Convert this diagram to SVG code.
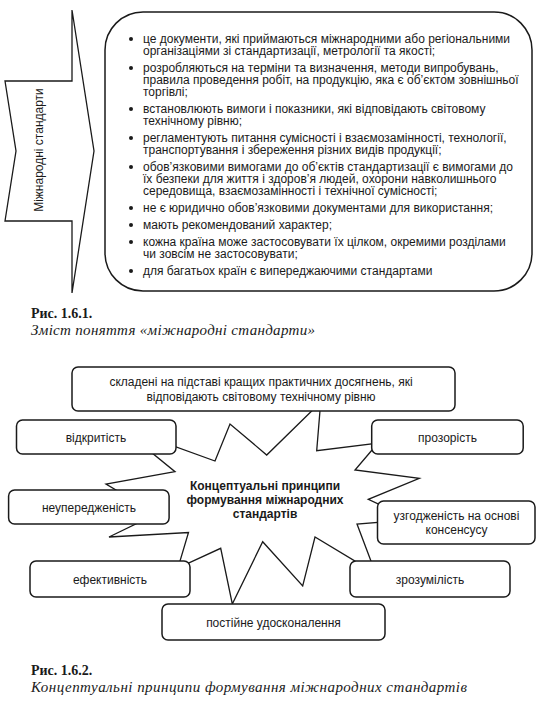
<svg xmlns="http://www.w3.org/2000/svg" width="538" height="712" viewBox="0 0 538 712">
<style>
.t{font-family:"Liberation Sans",Arial,sans-serif;font-size:12px;fill:#1a1a1a}
.c{text-anchor:middle}
.b{font-weight:bold}
.box{fill:#fff;stroke:#1a1a1a;stroke-width:1.5}
.ln{fill:#fff;stroke:#1a1a1a;stroke-width:1.3;stroke-linejoin:miter}
.cap{font-family:"Liberation Serif","Times New Roman",serif;fill:#1a1a1a}
.dot{fill:#1a1a1a}
</style>
<rect width="538" height="712" fill="#fff"/>

<g id="fig1">
  <g id="arrow">
    <polygon class="ln" points="5,81 72,81 72,10 94,151 72,293 72,221 5,221 16,151"/>
    <text class="t c" font-size="11.5" transform="translate(43,150) rotate(-90)">Міжнародні стандарти</text>
  </g>
  <g id="content">
    <rect class="box" x="105" y="12" width="427" height="279" rx="38" ry="38"/>
    <g class="dot">
      <circle cx="131" cy="39" r="2"/>
      <circle cx="131" cy="68" r="2"/>
      <circle cx="131" cy="109" r="2"/>
      <circle cx="131" cy="138" r="2"/>
      <circle cx="131" cy="167" r="2"/>
      <circle cx="131" cy="208" r="2"/>
      <circle cx="131" cy="225" r="2"/>
      <circle cx="131" cy="242" r="2"/>
      <circle cx="131" cy="271" r="2"/>
    </g>
    <g class="t" font-size="11.8">
      <text x="143" y="43">це документи, які приймаються міжнародними або регіональними</text>
      <text x="143" y="55">організаціями зі стандартизації, метрології та якості;</text>
      <text x="143" y="72">розробляються на терміни та визначення, методи випробувань,</text>
      <text x="143" y="84">правила проведення робіт, на продукцію, яка є об’єктом зовнішньої</text>
      <text x="143" y="96">торгівлі;</text>
      <text x="143" y="113">встановлюють вимоги і показники, які відповідають світовому</text>
      <text x="143" y="125">технічному рівню;</text>
      <text x="143" y="142">регламентують питання сумісності і взаємозамінності, технології,</text>
      <text x="143" y="154">транспортування і збереження різних видів продукції;</text>
      <text x="143" y="171">обов’язковими вимогами до об’єктів стандартизації є вимогами до</text>
      <text x="143" y="183">їх безпеки для життя і здоров’я людей, охорони навколишнього</text>
      <text x="143" y="195">середовища, взаємозамінності і технічної сумісності;</text>
      <text x="143" y="212">не є юридично обов’язковими документами для використання;</text>
      <text x="143" y="229">мають рекомендований характер;</text>
      <text x="143" y="246">кожна країна може застосовувати їх цілком, окремими розділами</text>
      <text x="143" y="258">чи зовсім не застосовувати;</text>
      <text x="143" y="275">для багатьох країн є випереджаючими стандартами</text>
    </g>
  </g>
  <g id="caption1">
    <text class="cap" x="31" y="318" font-size="14" font-weight="bold">Рис. 1.6.1.</text>
    <text class="cap" x="31" y="335" font-size="15" font-style="italic" textLength="284" lengthAdjust="spacing">Зміст поняття «міжнародні стандарти»</text>
  </g>
</g>

<g id="fig2">
  <g id="center">
    <polygon class="ln" points="320.7,402 316.7,450.7 378,443 355,470 419.3,478.3 368.3,499.3 390,509.5 390,521.5 357,524 373.6,568 365,567 315,537 302.7,586 262.7,541.7 232.3,604 220.7,548.3 182,566 178.5,566 188.5,532.5 109,537 150,517 126,496 106,484 175,471.7 146,448 165,443 215,461 230,424 266.7,455 311.7,411"/>
    <text class="t c b" x="265" y="489.5">Концептуальні принципи</text>
    <text class="t c b" x="265" y="503.5">формування міжнародних</text>
    <text class="t c b" x="265" y="517.5">стандартів</text>
  </g>
  <g id="n-top">
    <rect class="box" x="72" y="367" width="383" height="44" rx="6"/>
    <text class="t c" font-size="11.5" x="261" y="386">складені на підставі кращих практичних досягнень, які</text>
    <text class="t c" font-size="11.5" x="261" y="401">відповідають світовому технічному рівню</text>
  </g>
  <g id="n-open">
    <rect class="box" x="16.5" y="420" width="159.5" height="34" rx="6"/>
    <text class="t c" x="96" y="441.5">відкритість</text>
  </g>
  <g id="n-transp">
    <rect class="box" x="371.7" y="420" width="151.5" height="34" rx="6"/>
    <text class="t c" x="447.5" y="441.5">прозорість</text>
  </g>
  <g id="n-impartial">
    <rect class="box" x="8.6" y="490" width="160.5" height="34" rx="6"/>
    <text class="t c" x="89" y="511.5">неупередженість</text>
  </g>
  <g id="n-consensus">
    <rect class="box" x="377.5" y="501" width="157.5" height="43" rx="6"/>
    <text class="t c" x="456.5" y="519.5">узгодженість на основі</text>
    <text class="t c" x="456.5" y="533.5">консенсусу</text>
  </g>
  <g id="n-eff">
    <rect class="box" x="30" y="561" width="160" height="36" rx="6"/>
    <text class="t c" x="110" y="583.5">ефективність</text>
  </g>
  <g id="n-clear">
    <rect class="box" x="350" y="561" width="160" height="36" rx="6"/>
    <text class="t c" x="430" y="583.5">зрозумілість</text>
  </g>
  <g id="n-improve">
    <rect class="box" x="162" y="604" width="223" height="36" rx="6"/>
    <text class="t c" x="273.5" y="626.5">постійне удосконалення</text>
  </g>
  <g id="caption2">
    <text class="cap" x="31" y="675" font-size="14" font-weight="bold">Рис. 1.6.2.</text>
    <text class="cap" x="31" y="692" font-size="15" font-style="italic" textLength="436" lengthAdjust="spacing">Концептуальні принципи формування міжнародних стандартів</text>
  </g>
</g>
</svg>
